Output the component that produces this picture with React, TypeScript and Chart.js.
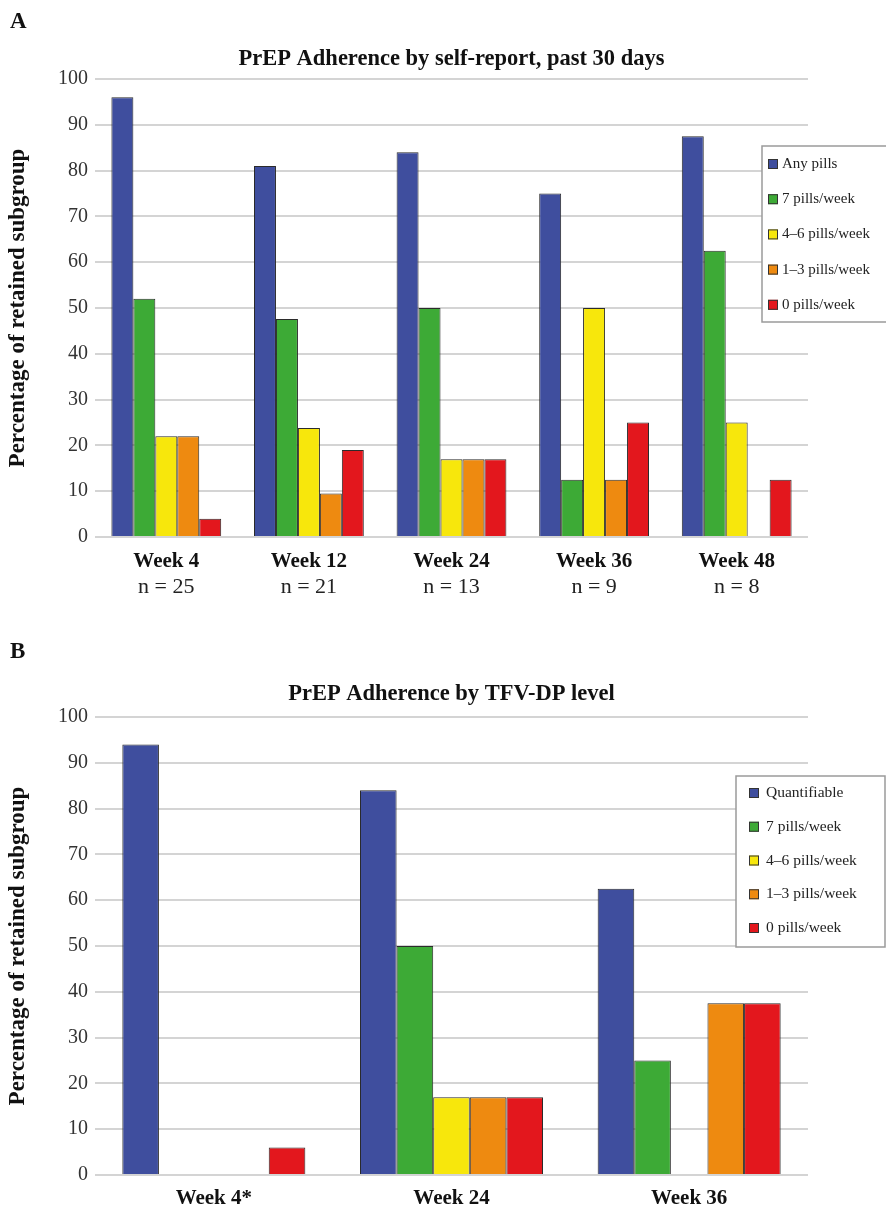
import React, { useEffect, useRef } from "react";
import { Chart, registerables } from "chart.js";

Chart.register(...registerables);

const FONT = '"Liberation Serif", "DejaVu Serif", serif';

// ---- Panel A data ----
const weeksA = ["Week 4", "Week 12", "Week 24", "Week 36", "Week 48"];
const nLabelsA = ["n = 25", "n = 21", "n = 13", "n = 9", "n = 8"];
const seriesNamesA = ["Any pills", "7 pills/week", "4–6 pills/week", "1–3 pills/week", "0 pills/week"];
const anyPillsA = [96, 81, 84, 75, 87.5];
const sevenPillsA = [52, 47.6, 50, 12.5, 62.5];
const fourSixPillsA = [22, 23.8, 17, 50, 25];
const oneThreePillsA = [22, 9.5, 17, 12.5, null];
const zeroPillsA = [4, 19, 17, 25, 12.5];

// ---- Panel B data ----
const weeksB = ["Week 4*", "Week 24", "Week 36"];
const seriesNamesB = ["Quantifiable", "7 pills/week", "4–6 pills/week", "1–3 pills/week", "0 pills/week"];
const quantifiableB = [94, 84, 62.5];
const sevenPillsB = [null, 50, 25];
const fourSixPillsB = [null, 17, null];
const oneThreePillsB = [null, 17, 37.5];
const zeroPillsB = [6, 17, 37.5];

const titleA = "PrEP Adherence by self-report, past 30 days";
const titleB = "PrEP Adherence by TFV-DP level";
const yAxisTitle = "Percentage of retained subgroup";

const COLORS = ["#3F4E9E", "#3DAA36", "#F7E70C", "#EE8A10", "#E3171D"];

const decorPlugin = {
  id: "decor",
  afterDraw(chart: any, _args: any, opts: any) {
    const { ctx, chartArea } = chart;
    ctx.save();
    ctx.fillStyle = "#111";
    ctx.textBaseline = "middle";
    ctx.textAlign = "left";
    ctx.font = `bold 23px ${FONT}`;
    ctx.fillText(opts.letter, 10, opts.letterY);
    ctx.font = `bold 22.5px ${FONT}`;
    ctx.textAlign = "center";
    ctx.fillText(opts.title, (chartArea.left + chartArea.right) / 2, chartArea.top - opts.titleGap);

    const L = opts.legend;
    ctx.fillStyle = "#ffffff";
    ctx.fillRect(L.x, L.y, L.w, L.h);
    ctx.strokeStyle = "#9a9a9a";
    ctx.lineWidth = 1.5;
    ctx.strokeRect(L.x, L.y, L.w, L.h);
    chart.data.datasets.forEach((ds: any, i: number) => {
      const cy = L.y + L.first + i * L.step;
      ctx.fillStyle = ds.backgroundColor;
      ctx.fillRect(L.x + L.sw, cy - 5, 10, 10);
      ctx.strokeStyle = "#333";
      ctx.lineWidth = 1;
      ctx.strokeRect(L.x + L.sw + 0.5, cy - 4.5, 9, 9);
      ctx.fillStyle = "#222";
      ctx.font = `${L.fs}px ${FONT}`;
      ctx.textAlign = "left";
      ctx.fillText(ds.label, L.x + L.tx, cy);
    });
    ctx.restore();
  },
};

function makeDatasets(names: string[], series: (number | null)[][]) {
  return names.map((name, i) => ({
    label: name,
    data: series[i],
    backgroundColor: COLORS[i],
    borderColor: "#2b2b2b",
    borderWidth: 1,
    categoryPercentage: 0.77,
    barPercentage: 1.0,
  }));
}

function baseOptions(padding: any, xHeight: number, nLabels: string[] | null, xPad: number, decor: any) {
  const scales: any = {
    x: {
      grid: { display: false, drawTicks: false },
      border: { display: false },
      ticks: {
        font: { family: FONT, size: 21, weight: "bold" },
        color: "#111",
        padding: xPad,
        maxRotation: 0,
        autoSkip: false,
      },
      afterFit: (s: any) => {
        s.height = xHeight;
      },
    },
    y: {
      min: 0,
      max: 100,
      ticks: {
        stepSize: 10,
        font: { family: FONT, size: 20 },
        color: "#333",
        padding: 7,
      },
      grid: { color: "#D4D4D4", lineWidth: 2, drawTicks: false },
      border: { display: false },
      title: {
        display: true,
        text: yAxisTitle,
        font: { family: FONT, size: 23, weight: "bold" },
        color: "#111",
        padding: { top: 4, bottom: 0 },
      },
      afterFit: (s: any) => {
        s.width = 95;
      },
    },
  };
  if (nLabels) {
    scales.x2 = {
      type: "category",
      position: "bottom",
      labels: nLabels,
      offset: true,
      grid: { display: false, drawTicks: false },
      border: { display: false },
      ticks: {
        font: { family: FONT, size: 22 },
        color: "#222",
        padding: 0,
        maxRotation: 0,
        autoSkip: false,
      },
      afterFit: (s: any) => {
        s.height = 30;
      },
    };
  }
  return {
    responsive: false,
    animation: false as const,
    layout: { padding },
    plugins: {
      legend: { display: false },
      title: { display: false },
      tooltip: { enabled: false },
      decor,
    },
    scales,
  };
}

function ChartCanvas({ config, width, height, top }: any) {
  const ref = useRef<HTMLCanvasElement>(null);
  useEffect(() => {
    if (!ref.current) return;
    const chart = new Chart(ref.current, config);
    return () => chart.destroy();
  }, []);
  return (
    <canvas
      ref={ref}
      width={width}
      height={height}
      style={{ position: "absolute", left: 0, top, width, height }}
    />
  );
}

export default function App() {
  const configA: any = {
    type: "bar",
    data: {
      labels: weeksA,
      datasets: makeDatasets(seriesNamesA, [anyPillsA, sevenPillsA, fourSixPillsA, oneThreePillsA, zeroPillsA]),
    },
    options: baseOptions(
      { top: 79, left: 0, right: 78, bottom: 11 },
      37,
      nLabelsA,
      12,
      {
        letter: "A",
        letterY: 22,
        title: titleA,
        titleGap: 20,
        legend: { x: 762, y: 146, w: 128, h: 176, first: 18, step: 35.2, sw: 6, tx: 20, fs: 15 },
      }
    ),
    plugins: [decorPlugin],
  };
  const configB: any = {
    type: "bar",
    data: {
      labels: weeksB,
      datasets: makeDatasets(seriesNamesB, [quantifiableB, sevenPillsB, fourSixPillsB, oneThreePillsB, zeroPillsB]),
    },
    options: baseOptions(
      { top: 102, left: 0, right: 78, bottom: 1 },
      30,
      null,
      11,
      {
        letter: "B",
        letterY: 37,
        title: titleB,
        titleGap: 23,
        legend: { x: 736, y: 161, w: 149, h: 171, first: 17, step: 33.75, sw: 13, tx: 30, fs: 15.5 },
      }
    ),
    plugins: [decorPlugin],
  };
  return (
    <div style={{ position: "absolute", left: 0, top: 0, width: 886, height: 1206, background: "#fff" }}>
      <ChartCanvas config={configA} width={886} height={615} top={0} />
      <ChartCanvas config={configB} width={886} height={591} top={615} />
    </div>
  );
}
